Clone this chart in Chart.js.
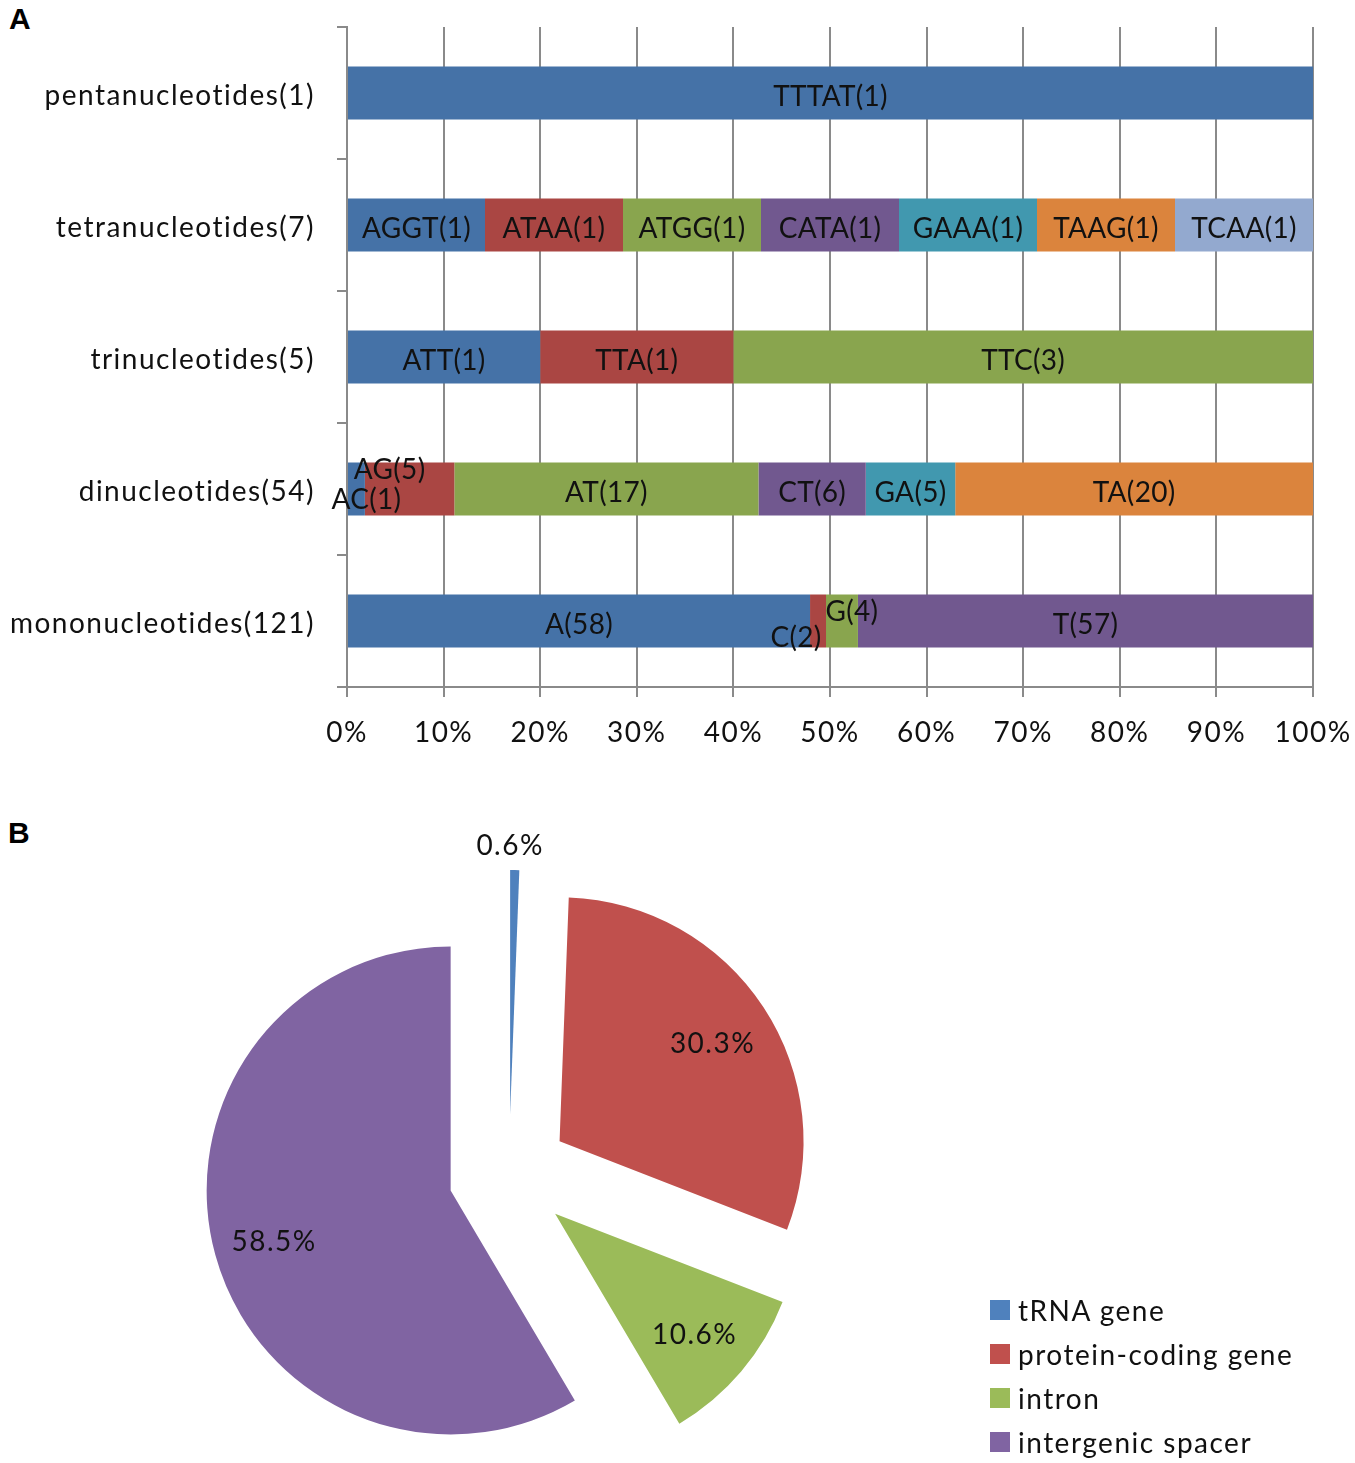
<!DOCTYPE html>
<html lang="en">
<head>
  <meta charset="UTF-8" />
  <title>SSR motifs and genomic distribution</title>
  <script src="https://cdn.jsdelivr.net/npm/chart.js"></script>
  <style>
    body { margin: 0; background: #fff; }
    #wrap { position: relative; width: 1355px; height: 1463px; overflow: hidden; }
    .panel { position: absolute; font: bold 30px 'Liberation Sans', Arial, sans-serif; line-height: 1; color: #000; }
    #barChart { position: absolute; left: 0; top: 0; }
    #pieChart { position: absolute; left: 0; top: 760px; }
    #legend { position: absolute; left: 990px; top: 1288px; font: 28px Lato, sans-serif; letter-spacing: 1.5px; color: #111; }
    #legend .row { height: 44px; display: flex; align-items: center; }
    #legend .box { width: 20px; height: 20px; margin-right: 8px; }
  </style>
</head>
<body>
<div id="wrap">
  <div class="panel" style="left:9px; top:4px;">A</div>
  <div class="panel" style="left:8px; top:818px;">B</div>
  <canvas id="barChart" width="1355" height="770"></canvas>
  <canvas id="pieChart" width="1355" height="703"></canvas>
  <div id="legend"></div>
</div>

<script>
  // ---- panel A: repeat motifs per class ----
  const categories = ['pentanucleotides(1)', 'tetranucleotides(7)', 'trinucleotides(5)', 'dinucleotides(54)', 'mononucleotides(121)'];

  const pentaMotifs = ['TTTAT'];
  const pentaCounts = [1];
  const tetraMotifs = ['AGGT', 'ATAA', 'ATGG', 'CATA', 'GAAA', 'TAAG', 'TCAA'];
  const tetraCounts = [1, 1, 1, 1, 1, 1, 1];
  const triMotifs = ['ATT', 'TTA', 'TTC'];
  const triCounts = [1, 1, 3];
  const diMotifs = ['AC', 'AG', 'AT', 'CT', 'GA', 'TA'];
  const diCounts = [1, 5, 17, 6, 5, 20];
  const monoMotifs = ['A', 'C', 'G', 'T'];
  const monoCounts = [58, 2, 4, 57];

  const xTickValues = [0, 10, 20, 30, 40, 50, 60, 70, 80, 90, 100];
  const barColors = ['#4572A7', '#AA4643', '#89A54E', '#71588F', '#4198AF', '#DB843D', '#93A9CF'];

  // ---- panel B: SSR location ----
  const pieLabels = ['tRNA gene', 'protein-coding gene', 'intron', 'intergenic spacer'];
  const pieValues = [0.6, 30.3, 10.6, 58.5];
  const pieColors = ['#4F81BD', '#C0504D', '#9BBB59', '#8064A2'];

  Chart.defaults.font.family = 'Lato';
  const axisGray = '#8a8a8a';
  const textColor = '#111';
  const fontSize = 28;
  const textDrop = 4; // Lato sits a bit high on 'middle'

  // labels that were moved by hand in the original so they don't collide
  const labelNudge = { 'AC(1)': [10, 7], 'AG(5)': [-20, -23], 'C(2)': [-22, 13], 'G(4)': [10, -13] };

  const rows = [
    [pentaMotifs, pentaCounts],
    [tetraMotifs, tetraCounts],
    [triMotifs, triCounts],
    [diMotifs, diCounts],
    [monoMotifs, monoCounts]
  ];
  const maxParts = Math.max(...rows.map(r => r[0].length));

  const datasets = [];
  for (let k = 0; k < maxParts; k++) {
    datasets.push({
      label: 'motif ' + (k + 1),
      data: rows.map(([m, c]) => {
        const total = c.reduce((a, b) => a + b, 0);
        return k < c.length ? c[k] / total * 100 : null;
      }),
      motifText: rows.map(([m, c]) => k < m.length ? m[k] + '(' + c[k] + ')' : ''),
      backgroundColor: barColors[k],
      borderWidth: 0,
      categoryPercentage: 0.4,
      barPercentage: 1
    });
  }

  // the original text is set loosely, so space the letters a little
  const looseText = {
    id: 'looseText',
    beforeDraw(chart) { chart.ctx.letterSpacing = '1.5px'; }
  };

  const barLabels = {
    id: 'barLabels',
    afterDatasetsDraw(chart) {
      const ctx = chart.ctx;
      ctx.save();
      ctx.letterSpacing = '0.3px';
      ctx.font = fontSize + 'px Lato';
      ctx.fillStyle = textColor;
      ctx.textAlign = 'center';
      ctx.textBaseline = 'middle';
      chart.data.datasets.forEach((ds, i) => {
        chart.getDatasetMeta(i).data.forEach((bar, j) => {
          const txt = ds.motifText[j];
          if (!txt) return;
          const [dx, dy] = labelNudge[txt] || [0, 0];
          ctx.fillText(txt, (bar.x + bar.base) / 2 + dx, bar.y + textDrop + dy);
        });
      });
      ctx.restore();
    }
  };

  const barChart = new Chart(document.getElementById('barChart'), {
    type: 'bar',
    data: { labels: categories, datasets: datasets },
    options: {
      indexAxis: 'y',
      responsive: false,
      animation: false,
      events: [],
      layout: { padding: { top: 27, right: 42, left: 0, bottom: 0 } },
      plugins: { legend: { display: false }, tooltip: { enabled: false } },
      scales: {
        x: {
          stacked: true,
          min: xTickValues[0],
          max: xTickValues[xTickValues.length - 1],
          afterBuildTicks: s => { s.ticks = xTickValues.map(v => ({ value: v })); },
          ticks: { callback: v => v + '%', font: { size: fontSize }, color: textColor, padding: 19, maxRotation: 0, autoSkip: false },
          grid: { color: axisGray, lineWidth: 2, tickLength: 10 },
          border: { color: axisGray, width: 2 },
          afterFit: s => { s.height = 83; s.paddingLeft = 0; s.paddingRight = 0; }
        },
        y: {
          stacked: true,
          ticks: { font: { size: fontSize }, color: textColor, padding: 22, labelOffset: 3 },
          grid: { drawOnChartArea: false, offset: true, color: axisGray, lineWidth: 2, tickLength: 10 },
          border: { color: axisGray, width: 2 },
          afterFit: s => { s.width = 347; s.paddingTop = 0; s.paddingBottom = 0; }
        }
      }
    },
    plugins: [looseText, barLabels]
  });

  // pin the plot area to where it sits in the figure (top 27, right 1313)
  const pad = barChart.options.layout.padding;
  pad.top += 27 - barChart.chartArea.top;
  pad.right += barChart.chartArea.right - 1313;
  barChart.update();

  // ---- pie ----
  const explode = 60.5;

  const pieExplode = {
    id: 'pieExplode',
    beforeDatasetsDraw(chart) {
      const a = chart.chartArea;
      const cx = (a.left + a.right) / 2, cy = (a.top + a.bottom) / 2;
      chart.getDatasetMeta(0).data.forEach(arc => {
        const mid = (arc.startAngle + arc.endAngle) / 2;
        arc.x = cx + Math.cos(mid) * explode;
        arc.y = cy + Math.sin(mid) * explode;
      });
    }
  };

  const pieText = {
    id: 'pieText',
    afterDatasetsDraw(chart) {
      const ctx = chart.ctx;
      const values = chart.data.datasets[0].data;
      ctx.save();
      ctx.letterSpacing = '1.5px';
      ctx.font = fontSize + 'px Lato';
      ctx.fillStyle = textColor;
      ctx.textAlign = 'center';
      ctx.textBaseline = 'middle';
      chart.getDatasetMeta(0).data.forEach((arc, i) => {
        const mid = (arc.startAngle + arc.endAngle) / 2;
        // the tiny slice gets its label outside the rim, straight above
        if (values[i] < 2) {
          ctx.fillText(values[i].toFixed(1) + '%', arc.x, arc.y - arc.outerRadius - 24);
          return;
        }
        const dist = arc.outerRadius * 0.75;
        ctx.fillText(values[i].toFixed(1) + '%', arc.x + Math.cos(mid) * dist, arc.y + Math.sin(mid) * dist + 3);
      });
      ctx.restore();
    }
  };

  new Chart(document.getElementById('pieChart'), {
    type: 'pie',
    data: {
      labels: pieLabels,
      datasets: [{
        data: pieValues,
        backgroundColor: pieColors,
        borderWidth: 0,
        radius: 244,
        clip: false
      }]
    },
    options: {
      responsive: false,
      animation: false,
      events: [],
      layout: { padding: { top: 126, right: 337, left: 0, bottom: 0 } },
      plugins: { legend: { display: false }, tooltip: { enabled: false } }
    },
    plugins: [pieExplode, pieText]
  });

  // legend for panel B
  const legend = document.getElementById('legend');
  pieLabels.forEach((name, i) => {
    const row = document.createElement('div');
    row.className = 'row';
    const box = document.createElement('span');
    box.className = 'box';
    box.style.background = pieColors[i];
    const txt = document.createElement('span');
    txt.textContent = name;
    row.appendChild(box);
    row.appendChild(txt);
    legend.appendChild(row);
  });
</script>
</body>
</html>
